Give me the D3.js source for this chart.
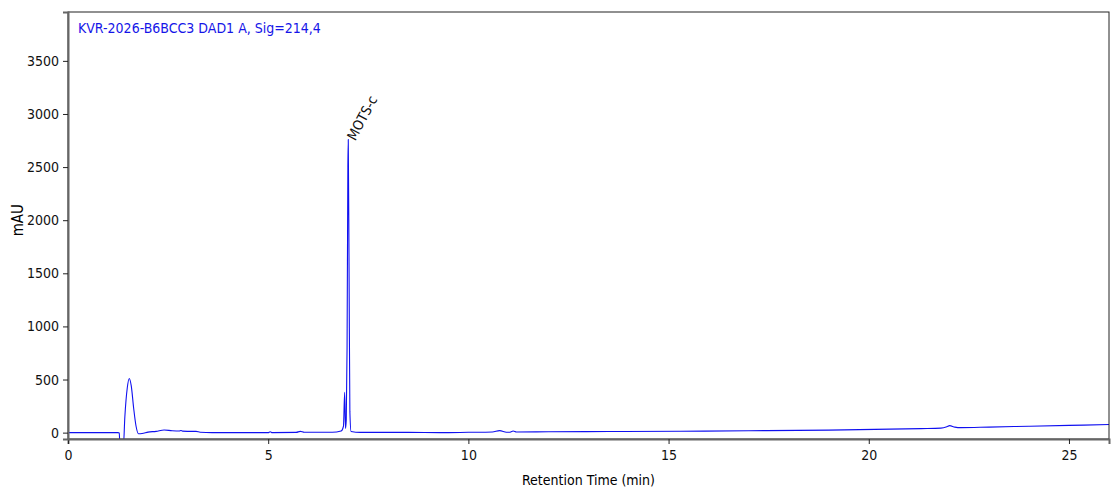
<!DOCTYPE html>
<html>
<head>
<meta charset="utf-8">
<script src="https://cdn.jsdelivr.net/npm/d3@7"></script>
<style>
  body { margin: 0; background: #fff; }
  svg { font-family: "DejaVu Sans Condensed", "DejaVu Sans", sans-serif; }
</style>
</head>
<body>
<svg id="chart" width="1119" height="499"></svg>
<script>
// sample title and peak annotation
const sampleTitle = "KVR-2026-B6BCC3 DAD1 A, Sig=214,4"
const peakNames = ["MOTS-c"]
const peakTimes = [7.0]
const peakHeights = [2760]

// chromatogram trace (retention time in min, signal in mAU)
const traceTime = [
  0, 1.25, 1.28, 1.30, 1.38, 1.42, 1.48, 1.53, 1.58, 1.64, 1.70, 1.76, 1.85, 2.0, 2.2, 2.4, 2.6, 2.78, 2.82, 2.86,
  3.1, 3.2, 3.3, 3.6, 4.5, 5.0, 5.05, 5.1, 5.7, 5.8, 5.9, 6.6, 6.82, 6.88, 6.91, 6.93, 6.95, 6.97, 6.99, 7.0,
  7.02, 7.04, 7.07, 7.3, 8.5, 9.3, 10.0, 10.6, 10.78, 10.95, 11.02, 11.12, 11.2, 12, 13.5, 15.3, 17, 19, 21.3, 21.8,
  21.95, 22.02, 22.15, 22.3, 23, 24, 25, 26
]
const traceValue = [
  0, 0, -4, -150, -150, 150, 420, 510, 440, 230, 60, -10, -8, 5, 12, 25, 18, 15, 20, 14,
  12, 12, 3, 0, 0, 0, 8, 0, 2, 12, 3, 3, 15, 60, 380, 40, 120, 800, 2500, 2760,
  1500, 200, 10, 2, 2, 0, 3, 6, 19, 4, 3, 15, 6, 8, 10, 13, 18, 24, 38, 42,
  55, 66, 52, 47, 52, 60, 68, 76
]

const xTicks = [0, 5, 10, 15, 20, 25]
const yTicks = [0, 500, 1000, 1500, 2000, 2500, 3000, 3500]

const svg = d3.select("#chart")
const margin = { top: 12, right: 10, bottom: 60, left: 68 }
const W = 1119 - margin.left - margin.right
const H = 499 - margin.top - margin.bottom

const x = d3.scaleLinear().domain([0, 26]).range([0, W])
const y = d3.scaleLinear().domain([-60, 3960]).range([H, 0])

const g = svg.append("g").attr("transform", `translate(${margin.left},${margin.top})`)

g.append("defs").append("clipPath").attr("id", "plotClip")
  .append("rect").attr("width", W).attr("height", H)

// trace
const pts = traceTime.map((t, i) => [t, traceValue[i]])
g.append("path")
  .datum(pts)
  .attr("clip-path", "url(#plotClip)")
  .attr("fill", "none")
  .attr("stroke", "#1010f0")
  .attr("stroke-width", 1.1)
  .attr("d", d3.line().x(d => x(d[0])).y(d => y(d[1])).curve(d3.curveMonotoneX))

// frame
g.append("rect")
  .attr("width", W).attr("height", H)
  .attr("fill", "none").attr("stroke", "#222").attr("stroke-width", 1)

// axes
const xAxis = g.append("g").attr("transform", `translate(0,${H})`)
  .call(d3.axisBottom(x).tickValues(xTicks).tickFormat(d3.format("d")).tickSize(5).tickPadding(6))
const yAxis = g.append("g")
  .call(d3.axisLeft(y).tickValues(yTicks).tickFormat(d3.format("d")).tickSize(5).tickPadding(4))
;[xAxis, yAxis].forEach(a => {
  a.attr("font-family", null).attr("font-size", null)
  a.select(".domain").attr("stroke", "#666").attr("stroke-width", 2)
  a.selectAll(".tick line").attr("stroke", "#222")
  a.selectAll("text").attr("font-size", 14).attr("fill", "#111")
})

// axis titles
g.append("text")
  .attr("x", W / 2).attr("y", H + 46)
  .attr("text-anchor", "middle").attr("font-size", 14)
  .text("Retention Time (min)")
svg.append("text")
  .attr("transform", `translate(23,${margin.top + y(2000)}) rotate(-90)`)
  .attr("text-anchor", "middle").attr("font-size", 15)
  .text("mAU")

// sample title
g.append("text")
  .attr("x", 10).attr("y", 21)
  .attr("fill", "#1515e8").attr("font-size", 14)
  .text(sampleTitle)

// peak labels
peakNames.forEach((name, i) => {
  g.append("text")
    .attr("transform", `translate(${x(peakTimes[i]) + 7},${y(peakHeights[i]) + 2}) rotate(-62)`)
    .attr("font-size", 14).attr("fill", "#111")
    .text(name)
})
</script>
</body>
</html>
